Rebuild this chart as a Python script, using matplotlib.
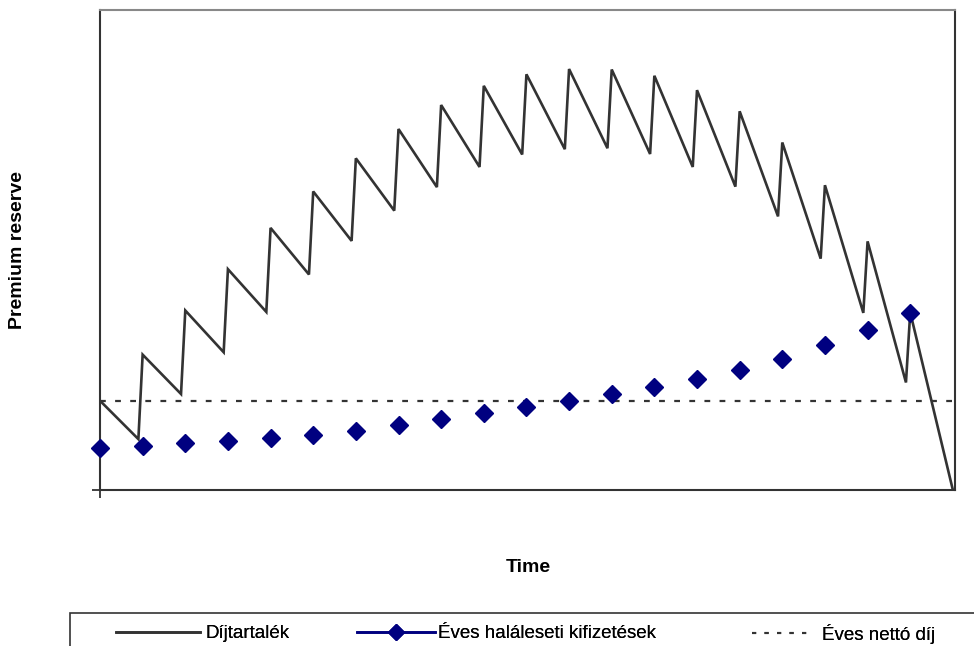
import numpy as np
import matplotlib.pyplot as plt
from matplotlib.lines import Line2D
from matplotlib.patches import Rectangle

plt.rcParams['font.family'] = ['Liberation Sans', 'DejaVu Sans']

# reserve at start of each year (after premium) and at end of the year
years = np.arange(20)
reserve_start = [18.6, 28.2, 37.4, 46.0, 54.6, 62.2, 69.1, 75.2, 80.2, 84.2,
                 86.6, 87.7, 87.6, 86.3, 83.3, 78.9, 72.4, 63.5, 51.8, 37.0]
reserve_end = [10.6, 20.0, 28.7, 37.1, 44.9, 51.9, 58.2, 63.1, 67.3, 69.9,
               71.0, 71.2, 70.0, 67.3, 63.2, 57.0, 48.2, 36.9, 22.4, 0.0]
end_t = np.append(np.arange(1, 20) - 0.1, 20)

# yearly death benefit payments
death_payments = [8.7, 9.2, 9.7, 10.2, 10.8, 11.5, 12.3, 13.5, 14.8, 16.0,
                  17.3, 18.5, 20.0, 21.5, 23.1, 24.9, 27.3, 30.2, 33.4, 36.9]

net_premium = 18.6

labels = ['Díjtartalék', 'Éves haláleseti kifizetések', 'Éves nettó díj']

# interleave start/end points for the sawtooth
t_line = np.ravel(np.column_stack([years, end_t]))
v_line = np.ravel(np.column_stack([reserve_start, reserve_end]))

fig = plt.figure(figsize=(9.74, 6.46), dpi=100)
W, H = 974, 646
ax = fig.add_axes([100 / W, 1 - 490 / H, 855 / W, 480 / H])

dark = '#333333'
navy = '#000080'

ax.plot(t_line, v_line, color=dark, lw=1.9, solid_joinstyle='miter')
ax.plot(years, death_payments, linestyle='none', marker='D', ms=9,
        color=navy, mec=navy, clip_on=False, zorder=3)
ax.axhline(net_premium, color=dark, lw=1.6, dashes=(2.6, 4.2))

ax.set_xlim(0, 20.05)
ax.set_ylim(0, 100)
ax.set_xticks([0])
ax.set_yticks([0])
ax.set_xticklabels([])
ax.set_yticklabels([])
ax.tick_params(direction='out', length=6, width=1.3, color=dark)

for side in ['left', 'bottom', 'right']:
    ax.spines[side].set_color(dark)
    ax.spines[side].set_linewidth(1.5)
ax.spines['top'].set_color('#888888')
ax.spines['top'].set_linewidth(1.5)

fig.text(18 / W, 1 - 250 / H, 'Premium reserve', rotation=90, fontsize=14,
         fontweight='bold', ha='center', va='center')
fig.text(528 / W, 1 - 567 / H, 'Time', fontsize=14, fontweight='bold',
         ha='center', va='center')

# legend box runs off the right edge like in the source
fig.patches.append(Rectangle((70 / W, 1 - 670 / H), 950 / W, 57 / H,
                             transform=fig.transFigure, fill=False,
                             edgecolor=dark, lw=1.2))
handles = [
    Line2D([], [], color=dark, lw=1.9),
    Line2D([], [], color=navy, lw=1.9, marker='D', ms=8),
    Line2D([], [], color=dark, lw=1.5, dashes=(2, 4)),
]
starts = [116, 357, 752]
hlen = [4.48, 4.16, 3.2]
pads = [0.27, 0.16, 0.53]
for h, lab, x0, hl, pd in zip(handles, labels, starts, hlen, pads):
    leg = fig.legend([h], [lab], loc='center left', frameon=False,
                     bbox_to_anchor=(x0 / W, 1 - 633.5 / H), fontsize=13.5,
                     handlelength=hl, handletextpad=pd, borderpad=0,
                     borderaxespad=0)
    fig.add_artist(leg)

fig.savefig('out.png', dpi=100)
